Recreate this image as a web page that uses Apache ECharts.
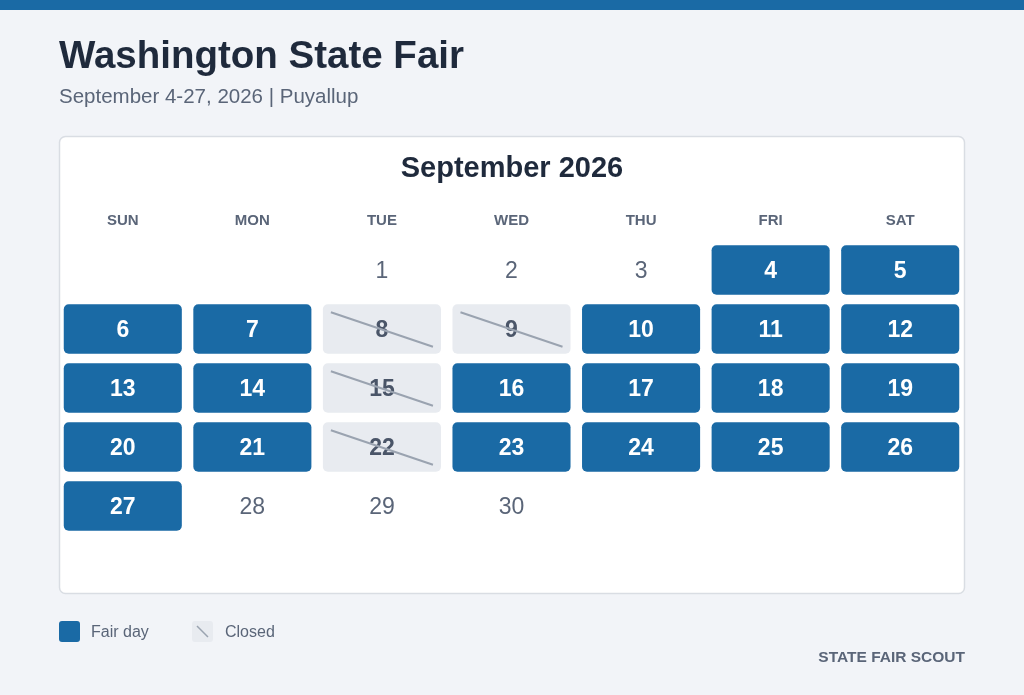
<!DOCTYPE html>
<html><head><meta charset="utf-8">
<script src="https://cdn.jsdelivr.net/npm/echarts@6/dist/echarts.min.js"></script>
<style>html,body{margin:0;padding:0;background:#f2f4f8}#c{width:1024px;height:695px}</style>
</head><body><div id="c"></div>
<script>
const weekdays = ['SUN','MON','TUE','WED','THU','FRI','SAT'];
const weeks = ['W1','W2','W3','W4','W5'];
const days = [1,2,3,4,5,6,7,8,9,10,11,12,13,14,15,16,17,18,19,20,21,22,23,24,25,26,27,28,29,30];
const firstWeekday = 2;
const fairDays = [4,5,6,7,10,11,12,13,14,16,17,18,19,20,21,23,24,25,26,27];
const closedDays = [8,9,15,22];

const data = days.map(d => {
  const idx = d - 1 + firstWeekday;
  const st = fairDays.includes(d) ? 1 : (closedDays.includes(d) ? 2 : 0);
  return [idx % 7, Math.floor(idx / 7), d, st];
});

const chart = echarts.init(document.getElementById('c'));
const FF = '"Liberation Sans", Arial, sans-serif';
chart.setOption({
  backgroundColor: '#f2f4f8',
  animation: false,
  graphic: [
    {type:'rect', shape:{x:0,y:0,width:1024,height:10}, style:{fill:'#1a6aa5'}, z:-1},
    {type:'rect', shape:{x:59.5,y:136.5,width:905,height:457,r:6}, style:{fill:'#fff',stroke:'#d9dde3',lineWidth:1.5}, z:-1},
    {type:'text', x:59, y:57, style:{text:'Washington State Fair', font:'bold 38.5px '+FF, fill:'#1f2a3c', verticalAlign:'middle'}},
    {type:'text', x:59, y:97, style:{text:'September 4-27, 2026 | Puyallup', font:'20.5px '+FF, fill:'#5a6578', verticalAlign:'middle'}},
    {type:'text', x:512, y:169, style:{text:'September 2026', font:'bold 29px '+FF, fill:'#1f2a3c', align:'center', verticalAlign:'middle'}},
    {type:'rect', shape:{x:59,y:621,width:21,height:21,r:3}, style:{fill:'#1a6aa5'}},
    {type:'text', x:91, y:633, style:{text:'Fair day', font:'16px '+FF, fill:'#5a6578', verticalAlign:'middle'}},
    {type:'rect', shape:{x:192,y:621,width:21,height:21,r:3}, style:{fill:'#e8ebf0'}},
    {type:'line', shape:{x1:197,y1:626,x2:208,y2:637}, style:{stroke:'#9aa3b0',lineWidth:1.5}},
    {type:'text', x:225, y:633, style:{text:'Closed', font:'16px '+FF, fill:'#5a6578', verticalAlign:'middle'}},
    {type:'text', x:965, y:658, style:{text:'STATE FAIR SCOUT', font:'bold 15.5px '+FF, fill:'#5a6578', align:'right', verticalAlign:'middle'}}
  ],
  grid: {left:58, right:59, top:240.5, bottom:159.5},
  xAxis: {type:'category', data:weekdays, position:'top', axisLine:{show:false}, axisTick:{show:false},
    splitLine:{show:false}, axisLabel:{margin:12, color:'#5a6578', fontSize:15, fontWeight:'bold', fontFamily:FF}},
  yAxis: {type:'category', data:weeks, inverse:true, show:false},
  series: [{
    type:'custom', data:data,
    renderItem: function(params, api) {
      const c = api.coord([api.value(0), api.value(1)]);
      const s = api.size([1,1]);
      const w = s[0]-11.5, h = s[1]-9.5;
      const x = c[0]-w/2, y = c[1]-h/2;
      const st = api.value(3), d = api.value(2);
      const ch = [];
      if (st === 1) ch.push({type:'rect', shape:{x,y,width:w,height:h,r:5}, style:{fill:'#1a6aa5'}});
      if (st === 2) ch.push({type:'rect', shape:{x,y,width:w,height:h,r:5}, style:{fill:'#e8ebf0'}});
      ch.push({type:'text', style:{x:c[0], y:c[1]+2, text:String(d), align:'center', verticalAlign:'middle',
        font:(st===0?'':'bold ')+'23px '+FF, fill: st===1?'#ffffff':(st===2?'#4a5568':'#5a6578')}});
      if (st === 2) ch.push({type:'line', shape:{x1:x+8,y1:y+8,x2:x+w-8,y2:y+h-7}, style:{stroke:'#9aa3b0',lineWidth:2}});
      return {type:'group', children:ch};
    }
  }]
});
</script></body></html>
